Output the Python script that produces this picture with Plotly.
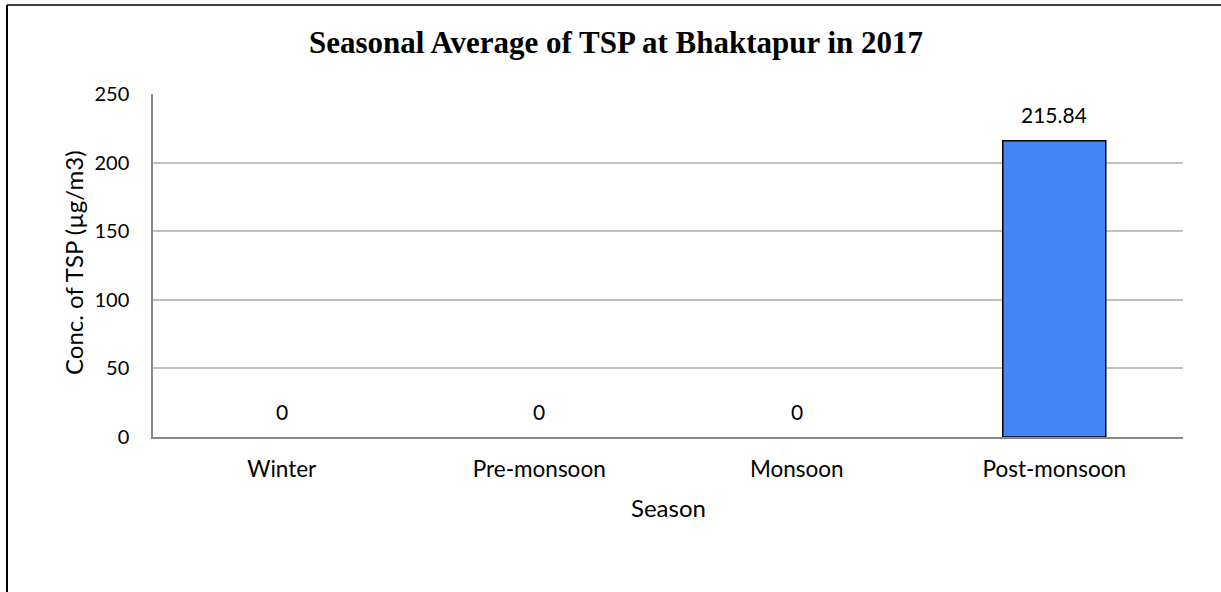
import plotly.graph_objects as go

seasons = ["Winter", "Pre-monsoon", "Monsoon", "Post-monsoon"]
tsp_values = [0, 0, 0, 215.84]
y_ticks = [0, 50, 100, 150, 200, 250]

TEXT_FONT = "Lato, Carlito, Calibri, sans-serif"

fig = go.Figure()
fig.add_trace(go.Bar(
    x=seasons,
    y=tsp_values,
    width=0.4,
    marker=dict(
        color="#4285F4",
        line=dict(color="#000000", width=[1.5 if v > 0 else 0 for v in tsp_values]),
    ),
    showlegend=False,
    hoverinfo="x+y",
))

annotations = []
for s, v in zip(seasons, tsp_values):
    annotations.append(dict(
        x=s, y=v, xref="x", yref="y", text=f"{v:g}",
        showarrow=False, yanchor="middle", yshift=26,
        font=dict(family=TEXT_FONT, size=21, color="#000000"),
    ))

# axis titles
annotations.append(dict(
    x=(668 - 153) / 1030, y=(437 - 507) / 343, xref="paper", yref="paper",
    text="Season", showarrow=False, xanchor="center", yanchor="middle",
    font=dict(family=TEXT_FONT, size=24, color="#000000"),
))
annotations.append(dict(
    x=(73 - 153) / 1030, y=(437 - 263) / 343, xref="paper", yref="paper",
    text="Conc. of TSP (µg/m3)", showarrow=False, xanchor="center", yanchor="middle",
    textangle=-90,
    font=dict(family=TEXT_FONT, size=24, color="#000000"),
))

L, R, T, B = 153, 1221 - 1183, 94, 592 - 437

def px_x(x):
    return (x - L) / 1030

def px_y(y):
    return (437 - y) / 343

shapes = [
    dict(type="line", xref="paper", yref="paper",
         x0=px_x(7), x1=px_x(7), y0=px_y(592), y1=px_y(5),
         line=dict(color="#000000", width=2)),
    dict(type="line", xref="paper", yref="paper",
         x0=px_x(7), x1=px_x(1221), y0=px_y(5), y1=px_y(5),
         line=dict(color="#000000", width=1.5)),
]

fig.update_layout(
    width=1221, height=592,
    margin=dict(l=L, r=R, t=T, b=B),
    paper_bgcolor="#ffffff",
    plot_bgcolor="#ffffff",
    title=dict(
        text="<b>Seasonal Average of TSP at Bhaktapur in 2017</b>",
        x=616 / 1221, xref="container", xanchor="center",
        y=1 - 42 / 592, yref="container", yanchor="middle",
        font=dict(family="Liberation Serif, Cambria, serif", size=31, color="#000000"),
    ),
    annotations=annotations,
    shapes=shapes,
    bargap=0.6,
)

fig.update_xaxes(
    showline=True, linecolor="#898989", linewidth=1.5,
    showgrid=False, ticks="", ticklabelstandoff=11,
    tickfont=dict(family=TEXT_FONT, size=22.5, color="#000000"),
)
fig.update_yaxes(
    range=[0, 250], tickvals=y_ticks,
    showline=True, linecolor="#898989", linewidth=1.5,
    showgrid=True, gridcolor="#c0c0c0", gridwidth=1.5,
    zeroline=False, ticks="", ticklabelstandoff=18,
    tickfont=dict(family=TEXT_FONT, size=20, color="#000000"),
)

fig.write_html(
    "out.html",
    config={"displayModeBar": False},
    post_script="document.body.style.margin='0';",
)
